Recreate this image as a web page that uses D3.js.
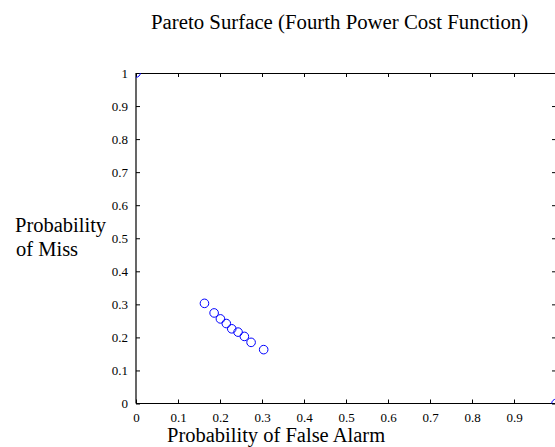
<!DOCTYPE html>
<html><head><meta charset="utf-8">
<script src="https://cdn.jsdelivr.net/npm/d3@7"></script>
<style>
html,body{margin:0;padding:0;background:#fff;}
text{font-family:"Liberation Serif","Times New Roman",serif;fill:#000;}
</style></head>
<body>
<svg id="c" width="555" height="447"></svg>
<script>
const falseAlarm = [0, 0.163, 0.186, 0.201, 0.215, 0.228, 0.243, 0.258, 0.274, 0.304, 1];
const miss       = [1, 0.303, 0.274, 0.256, 0.242, 0.226, 0.216, 0.203, 0.185, 0.163, 0];
const xTicks = [0, 0.1, 0.2, 0.3, 0.4, 0.5, 0.6, 0.7, 0.8, 0.9];
const yTicks = [0, 0.1, 0.2, 0.3, 0.4, 0.5, 0.6, 0.7, 0.8, 0.9, 1];
const titleText = "Pareto Surface (Fourth Power Cost Function)";
const xLabel = "Probability of False Alarm";
const yLabelLines = ["Probability", "of Miss"];

const svg = d3.select("#c");
const L = 136, R = 556, T = 73, B = 403.5;
const x = d3.scaleLinear().domain([0, 1]).range([L, R]);
const y = d3.scaleLinear().domain([0, 1]).range([B, T]);
const fmt = d => d === 0 ? "0" : d === 1 ? "1" : d3.format(".1f")(d);

svg.append("clipPath").attr("id", "clip").append("rect")
  .attr("x", L).attr("y", T).attr("width", R - L).attr("height", B - T);

const gBottom = svg.append("g").attr("transform", `translate(0,${B})`)
  .call(d3.axisBottom(x).tickValues(xTicks).tickSizeInner(-4).tickSizeOuter(0).tickPadding(9).tickFormat(fmt));
const gTop = svg.append("g").attr("transform", `translate(0,${T})`)
  .call(d3.axisTop(x).tickValues(xTicks).tickSizeInner(-4).tickSizeOuter(0).tickFormat(""));
const gLeft = svg.append("g").attr("transform", `translate(${L},0)`)
  .call(d3.axisLeft(y).tickValues(yTicks).tickSizeInner(-4).tickSizeOuter(0).tickPadding(8).tickFormat(fmt));
const gRight = svg.append("g").attr("transform", `translate(${R},0)`)
  .call(d3.axisRight(y).tickValues(yTicks).tickSizeInner(-4).tickSizeOuter(0).tickFormat(""));
[gBottom, gTop, gLeft, gRight].forEach(g => {
  g.selectAll("path.domain").attr("stroke", "#000").attr("stroke-width", 1.2);
  g.selectAll("line").attr("stroke", "#000").attr("stroke-width", 1);
  g.selectAll("text").style("font-family", '"Liberation Serif","Times New Roman",serif').style("font-size", "13px").attr("fill", "#000");
});
gLeft.selectAll("path.domain").attr("d", `M0,${B}V${T}`);
gBottom.selectAll("path.domain").attr("d", `M${L},0H${R}`);

svg.append("g").attr("clip-path", "url(#clip)")
  .selectAll("circle").data(falseAlarm.map((d, i) => [d, miss[i]])).join("circle")
  .attr("cx", d => x(d[0])).attr("cy", d => y(d[1])).attr("r", 4.3)
  .attr("fill", "none").attr("stroke", "#0000ff").attr("stroke-width", 1);

svg.append("text").attr("x", 151).attr("y", 28.5).style("font-size", "20.8px").text(titleText);
svg.append("text").attr("x", 167).attr("y", 442).style("font-size", "20.5px").text(xLabel);
svg.append("text").attr("x", 15).attr("y", 232).style("font-size", "20.5px").text(yLabelLines[0]);
svg.append("text").attr("x", 16).attr("y", 255.5).style("font-size", "20.5px").text(yLabelLines[1]);
</script>
</body></html>
